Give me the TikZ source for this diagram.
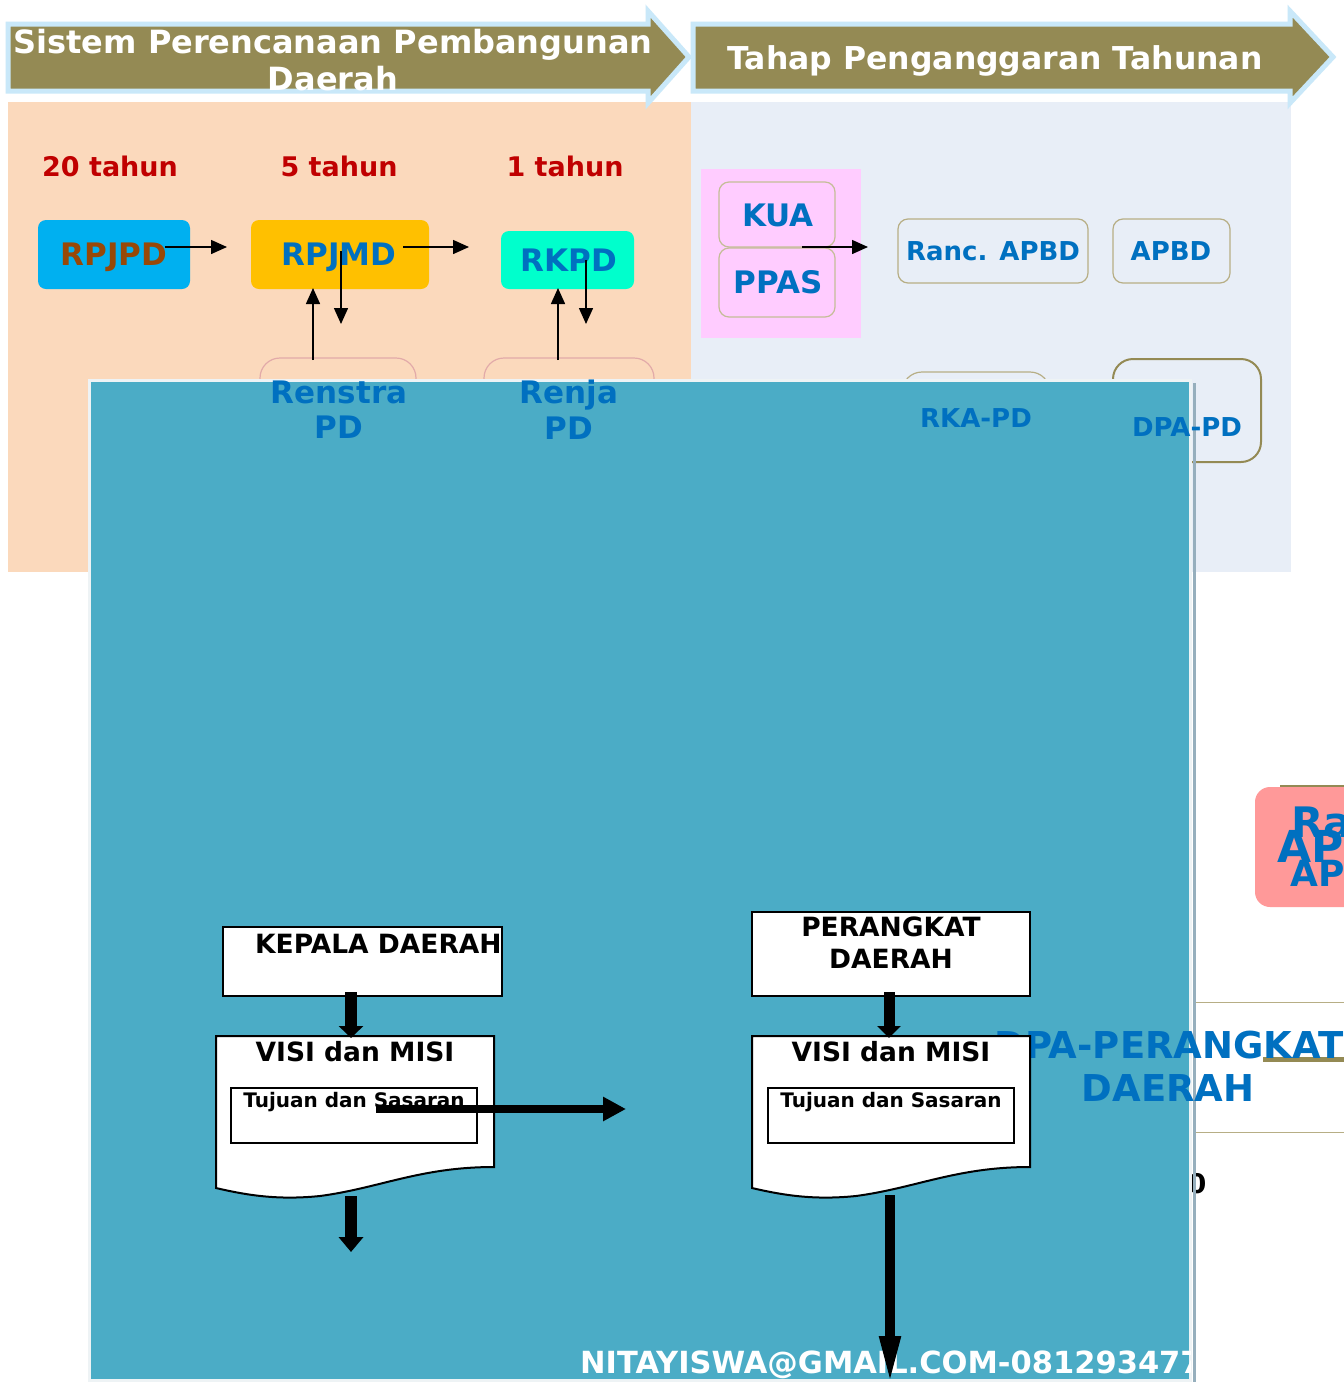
\documentclass[tikz,border=0pt]{standalone}
\usepackage{fontspec}
\setmainfont{DejaVu Sans}
\usetikzlibrary{arrows.meta}
\definecolor{cOlive}{HTML}{948A54}
\definecolor{cOliveL}{HTML}{B7AE85}
\definecolor{cArrB}{HTML}{C9E8F9}
\definecolor{cPeach}{HTML}{FBD9BC}
\definecolor{cLB}{HTML}{E8EEF7}
\definecolor{cRed}{HTML}{C00000}
\definecolor{cBrown}{HTML}{984807}
\definecolor{cBlue}{HTML}{0070C0}
\definecolor{cCyan}{HTML}{00B0F0}
\definecolor{cOrange}{HTML}{FFC000}
\definecolor{cAqua}{HTML}{00FFCC}
\definecolor{cPink}{HTML}{FFCCFF}
\definecolor{cTan}{HTML}{C4BD97}
\definecolor{cRose}{HTML}{E2AAA9}
\definecolor{cTeal}{HTML}{4BACC6}
\definecolor{cTealB}{HTML}{EEF3F5}
\definecolor{cGreyL}{HTML}{96AFBD}
\definecolor{cPinkR}{HTML}{FF9999}
\newcommand\fsz[1]{\fontsize{#1}{#1}\selectfont}
\begin{document}
\begin{tikzpicture}[x=1pt,y=-1pt,
  txt/.style={inner sep=0pt, anchor=base, font=\bfseries\fsz{#1}},
  txt/.default=26,
  thinarr/.style={line width=1.5pt, -{Triangle[length=16pt,width=14pt]}},
  thickarr/.style={line width=12pt, -{Triangle[length=12pt,width=24pt]}},
  hdr/.style={fill=cOlive, draw=cArrB, line width=5pt, line join=miter},
  fbox/.style={fill=white, draw=black, line width=2pt}]
\useasboundingbox (0,0) rectangle (1344,1382);
\fill[white] (0,0) rectangle (1344,1382);

% backgrounds
\fill[cPeach] (8,102) rectangle (691,572);
\fill[cLB] (691,102) rectangle (1291,572);

% header arrows
\draw[hdr] (8,24) -- (648,24) -- (648,11) -- (689,57) -- (648,103) -- (648,91) -- (8,91) -- cycle;
\draw[hdr] (693,24) -- (1290,24) -- (1290,11) -- (1333,57) -- (1290,103) -- (1290,91) -- (693,91) -- cycle;
\begin{scope}
\clip (10,27) rectangle (690,90);
\node[txt=32, text=white] (h1a) at (333,53) {Sistem Perencanaan Pembangunan};
\node[txt=32, text=white] (h1b) at (333,90) {Daerah};
\end{scope}
\node[txt=31.5, text=white] (h2) at (995,69) {Tahap Penganggaran Tahunan};

% period labels
\node[txt=27, text=cRed] (t20) at (110,176) {20 tahun};
\node[txt=27, text=cRed] (t5) at (339,176) {5 tahun};
\node[txt=27, text=cRed] (t1) at (565,176) {1 tahun};

% planning boxes
\fill[cCyan, rounded corners=8] (38,220) rectangle (190,289);
\fill[cOrange, rounded corners=8] (251,220) rectangle (429,289);
\fill[cAqua, rounded corners=8] (501,231) rectangle (634,289);
\node[txt=31, text=cBrown] (rpjpd) at (114,265) {RPJPD};
\node[txt=31, text=cBlue] (rpjmd) at (339,265) {RPJMD};
\node[txt=31, text=cBlue] (rkpd) at (569,271) {RKPD};

% Renstra / Renja outlines (under teal)
\draw[cRose, line width=1.2pt, rounded corners=20] (260,500) -- (260,358) -- (416,358) -- (416,500);
\draw[cRose, line width=1.2pt, rounded corners=20] (484,500) -- (484,358) -- (654,358) -- (654,500);

% thin connectors
\coordinate (a1s) at (165,247); \coordinate (a1e) at (227,247);
\coordinate (a2s) at (403,247); \coordinate (a2e) at (469,247);
\coordinate (d1s) at (341,251); \coordinate (d1e) at (341,324);
\coordinate (u1s) at (313,360); \coordinate (u1e) at (313,288);
\coordinate (d2s) at (586,260); \coordinate (d2e) at (586,324);
\coordinate (u2s) at (558,360); \coordinate (u2e) at (558,288);
\draw[thinarr] (a1s) -- (a1e);
\draw[thinarr] (a2s) -- (a2e);
\draw[thinarr] (d1s) -- (d1e);
\draw[thinarr] (u1s) -- (u1e);
\draw[thinarr] (d2s) -- (d2e);
\draw[thinarr] (u2s) -- (u2e);

% budgeting boxes
\fill[cPink] (701,169) rectangle (861,338);
\draw[cTan, line width=1.2pt, rounded corners=10] (719,182) rectangle (835,247);
\draw[cTan, line width=1.2pt, rounded corners=10] (719,248) rectangle (835,317);
\node[txt=31, text=cBlue] (kua) at (778,226) {KUA};
\node[txt=31, text=cBlue] (ppas) at (778,293) {PPAS};
\coordinate (k1s) at (802,247); \coordinate (k1e) at (868,247);
\draw[thinarr] (k1s) -- (k1e);
\draw[cOliveL, line width=1.2pt, rounded corners=10] (898,219) rectangle (1088,283);
\draw[cOliveL, line width=1.2pt, rounded corners=10] (1113,219) rectangle (1230,283);
\node[txt=26, text=cBlue] (ranc) at (993,260) {Ranc. APBD};
\node[txt=26, text=cBlue] (apbd) at (1171,260) {APBD};
\draw[cOliveL, line width=1.2pt, rounded corners=20] (902,500) -- (902,372) -- (1050,372) -- (1050,500);
\draw[cOlive, line width=2pt, rounded corners=20] (1113,359) rectangle (1261,462);

% right side elements
\draw[cOliveL, line width=1pt] (1193,1002) -- (1344,1002);
\draw[cOliveL, line width=1pt] (1193,1132) -- (1344,1132);
\draw[cOlive, line width=5pt] (1263,1059) -- (1344,1059);
\node[txt=27, text=black] (zero) at (1197,1193) {0};
\draw[cOlive, line width=1.5pt] (1280,786) -- (1344,786);
\fill[cPinkR, rounded corners=15] (1255,787) rectangle (1420,907);
\node[txt=42, anchor=base west, text=cBlue] (pr1) at (1291,837) {Ranc.};
\node[txt=44, anchor=base west, text=cBlue] (pr2) at (1277,862) {APBD};
\node[txt=36, anchor=base west, text=cBlue] (pr3) at (1290,886) {APBD};

% teal overlay
\fill[cTeal, draw=cTealB, line width=3pt] (89,380) rectangle (1190,1380);
\draw[cGreyL, line width=3pt] (1194,383) -- (1194,1382);

% labels above teal
\node[txt=31, text=cBlue] (ren1) at (339,403) {Renstra};
\node[txt=31, text=cBlue] (ren2) at (339,438) {PD};
\node[txt=31, text=cBlue] (rja1) at (569,403) {Renja};
\node[txt=31, text=cBlue] (rja2) at (569,439) {PD};
\node[txt=26, text=cBlue] (rka) at (976,427) {RKA-PD};
\node[txt=26, text=cBlue] (dpa) at (1187,436) {DPA-PD};
\node[txt=37, text=cBlue] (dpk1) at (1169,1058) {DPA-PERANGKAT};
\node[txt=37, text=cBlue] (dpk2) at (1168,1101) {DAERAH};

% flowchart left
\draw[fbox] (223,927) rectangle (502,996);
\node[txt=26.5, anchor=base west] (kd) at (255,953) {KEPALA DAERAH};
\draw[fbox] (216,1036) -- (494,1036) -- (494,1167) .. controls (420,1167) and (380,1188) .. (320,1196) .. controls (280,1200) and (250,1196) .. (216,1188) -- cycle;
\draw[black, line width=1.5pt] (231,1088) rectangle (477,1143);
\node[txt=26.5] (vm1) at (355,1061) {VISI dan MISI};
\node[txt=20] (ts1) at (354,1107) {Tujuan dan Sasaran};

% flowchart right
\draw[fbox] (752,912) rectangle (1030,996);
\node[txt=26.5] (pd1) at (891,936) {PERANGKAT};
\node[txt=26.5] (pd2) at (891,968) {DAERAH};
\draw[fbox] (752,1036) -- (1030,1036) -- (1030,1167) .. controls (956,1167) and (916,1188) .. (856,1196) .. controls (816,1200) and (786,1196) .. (752,1188) -- cycle;
\draw[black, line width=1.5pt] (768,1088) rectangle (1014,1143);
\node[txt=26.5] (vm2) at (891,1061) {VISI dan MISI};
\node[txt=20] (ts2) at (891,1107) {Tujuan dan Sasaran};

% footer
\begin{scope}
\clip (0,1300) rectangle (1190,1382);
\node[txt=30.5, anchor=base west, text=white] (mail) at (580,1373) {NITAYISWA@GMAIL.COM-0812934777};
\end{scope}

% thick connectors
\coordinate (f1s) at (351,992); \coordinate (f1e) at (351,1038);
\coordinate (f2s) at (376,1109); \coordinate (f2e) at (626,1109);
\coordinate (f3s) at (351,1196); \coordinate (f3e) at (351,1252);
\coordinate (g1s) at (889,992); \coordinate (g1e) at (889,1038);
\coordinate (g2s) at (890,1195); \coordinate (g2e) at (890,1386);
\draw[thickarr] (f1s) -- (f1e);
\draw[line width=8pt, -{Triangle[length=23pt,width=23pt]}] (f2s) -- (f2e);
\draw[line width=12pt, -{Triangle[length=15pt,width=24pt]}] (f3s) -- (f3e);
\draw[line width=11pt, -{Triangle[length=12pt,width=23pt]}] (g1s) -- (g1e);
\draw[line width=10pt, -{Triangle[length=50pt,width=19pt]}] (g2s) -- (g2e);
\end{tikzpicture}
\end{document}
